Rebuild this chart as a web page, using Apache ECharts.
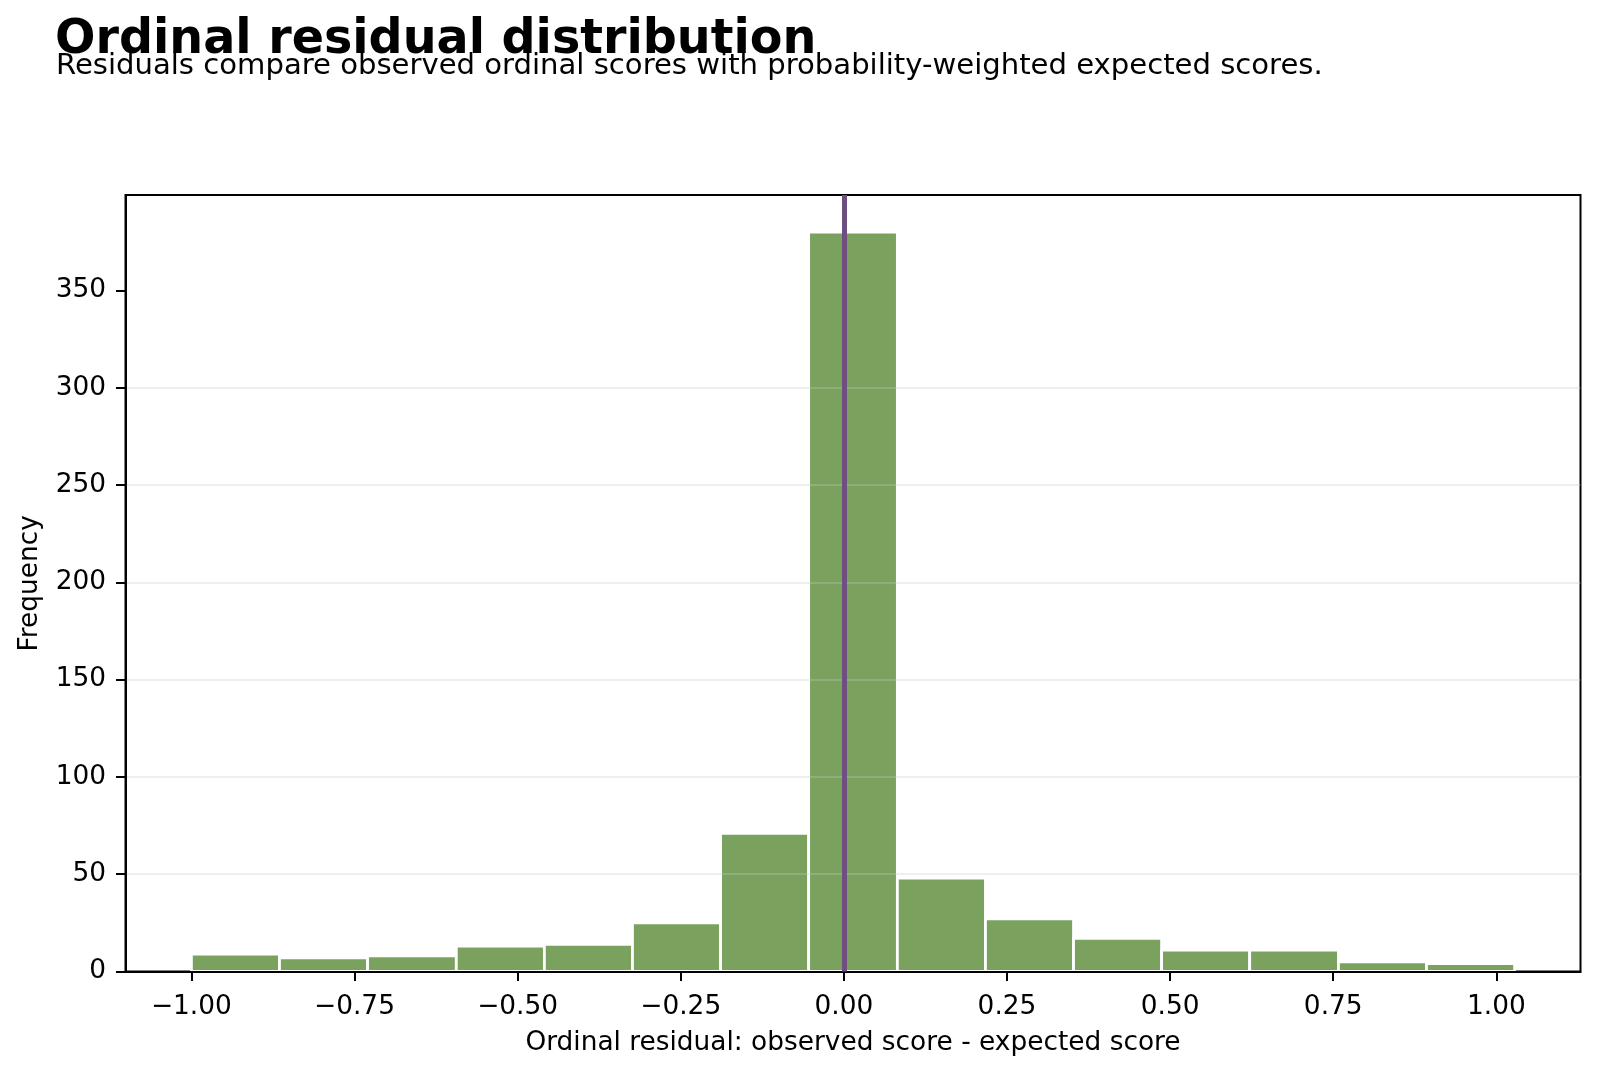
<!DOCTYPE html>
<html>
<head>
<meta charset="utf-8">
<title>Ordinal residual distribution</title>
<script src="https://cdn.jsdelivr.net/npm/echarts@6/dist/echarts.min.js"></script>
<style>
  html, body { margin: 0; padding: 0; background: #fff; }
  #main { width: 1600px; height: 1073px; }
</style>
</head>
<body>
<div id="main"></div>
<script>
// histogram bins
var binEdges = [-1.000, -0.865, -0.730, -0.594, -0.459, -0.324, -0.189, -0.054, 0.082, 0.217, 0.352, 0.487, 0.622, 0.758, 0.893, 1.028];
var counts = [9, 7, 8, 13, 14, 25, 71, 380, 48, 27, 17, 11, 11, 5, 4];
var xTicks = [-1, -0.75, -0.5, -0.25, 0, 0.25, 0.5, 0.75, 1];
var yTicks = [0, 50, 100, 150, 200, 250, 300, 350];
var refX = 0;

var FONT = 'DejaVu Sans';

var bins = counts.map(function (c, i) {
    return [binEdges[i], binEdges[i + 1], c];
});

var chart = echarts.init(document.getElementById('main'));

var option = {
    backgroundColor: '#fff',
    animation: false,
    title: [
        {
            text: 'Ordinal residual distribution',
            left: 55,
            top: 13,
            padding: 0,
            textStyle: { fontFamily: FONT, fontSize: 47.6, fontWeight: 'bold', color: '#000', lineHeight: 56 }
        },
        {
            text: 'Residuals compare observed ordinal scores with probability-weighted expected scores.',
            left: 56,
            top: 49,
            padding: 0,
            textStyle: { fontFamily: FONT, fontSize: 29.1, fontWeight: 'normal', color: '#000', lineHeight: 34 }
        }
    ],
    grid: {
        left: 125.5,
        right: 19.5,
        top: 195,
        bottom: 101.5,
        show: true,
        borderColor: '#000',
        borderWidth: 2,
        backgroundColor: 'transparent'
    },
    xAxis: {
        type: 'value',
        min: -1.101,
        max: 1.129,
        z: 3,
        name: 'Ordinal residual: observed score - expected score',
        nameLocation: 'middle',
        nameGap: 57,
        nameTextStyle: { fontFamily: FONT, fontSize: 26.4, color: '#000', lineHeight: 30 },
        axisLine: { show: true, onZero: false, lineStyle: { color: '#000', width: 2 } },
        axisTick: { show: true, length: 9.5, customValues: xTicks, lineStyle: { color: '#000', width: 2 } },
        axisLabel: {
            customValues: xTicks,
            margin: 23,
            fontFamily: FONT,
            fontSize: 26.4,
            color: '#000',
            formatter: function (v) {
                return v.toFixed(2).replace('-', '\u2212');
            }
        },
        splitLine: { show: false }
    },
    yAxis: {
        type: 'value',
        min: 0,
        max: 399,
        interval: 50,
        z: 3,
        name: 'Frequency',
        nameLocation: 'middle',
        nameGap: 70,
        nameTextStyle: { fontFamily: FONT, fontSize: 26.4, color: '#000', lineHeight: 30 },
        axisLine: { show: true, onZero: false, lineStyle: { color: '#000', width: 2 } },
        axisTick: { show: true, length: 9.5, customValues: yTicks, lineStyle: { color: '#000', width: 2 } },
        axisLabel: {
            customValues: yTicks,
            margin: 19.5,
            fontFamily: FONT,
            fontSize: 26.4,
            color: '#000'
        },
        splitLine: {
            show: true,
            showMinLine: false,
            showMaxLine: false,
            lineStyle: { color: 'rgba(200,200,200,0.4)', width: 1.5 }
        }
    },
    series: [
        {
            type: 'custom',
            z: 2,
            data: bins,
            encode: { x: [0, 1], y: 2 },
            renderItem: function (params, api) {
                var p0 = api.coord([api.value(0), api.value(2)]);
                var p1 = api.coord([api.value(1), 0]);
                return {
                    type: 'rect',
                    shape: { x: p0[0], y: p0[1], width: p1[0] - p0[0], height: p1[1] - p0[1] },
                    style: { fill: '#7aa25e', stroke: '#ffffff', lineWidth: 2.8 }
                };
            }
        },
        {
            type: 'line',
            z: 10,
            data: [],
            markLine: {
                silent: true,
                symbol: ['none', 'none'],
                label: { show: false },
                lineStyle: { color: '#6e4f80', width: 5, type: 'solid' },
                data: [{ xAxis: refX }]
            }
        }
    ]
};

chart.setOption(option);
</script>
</body>
</html>
